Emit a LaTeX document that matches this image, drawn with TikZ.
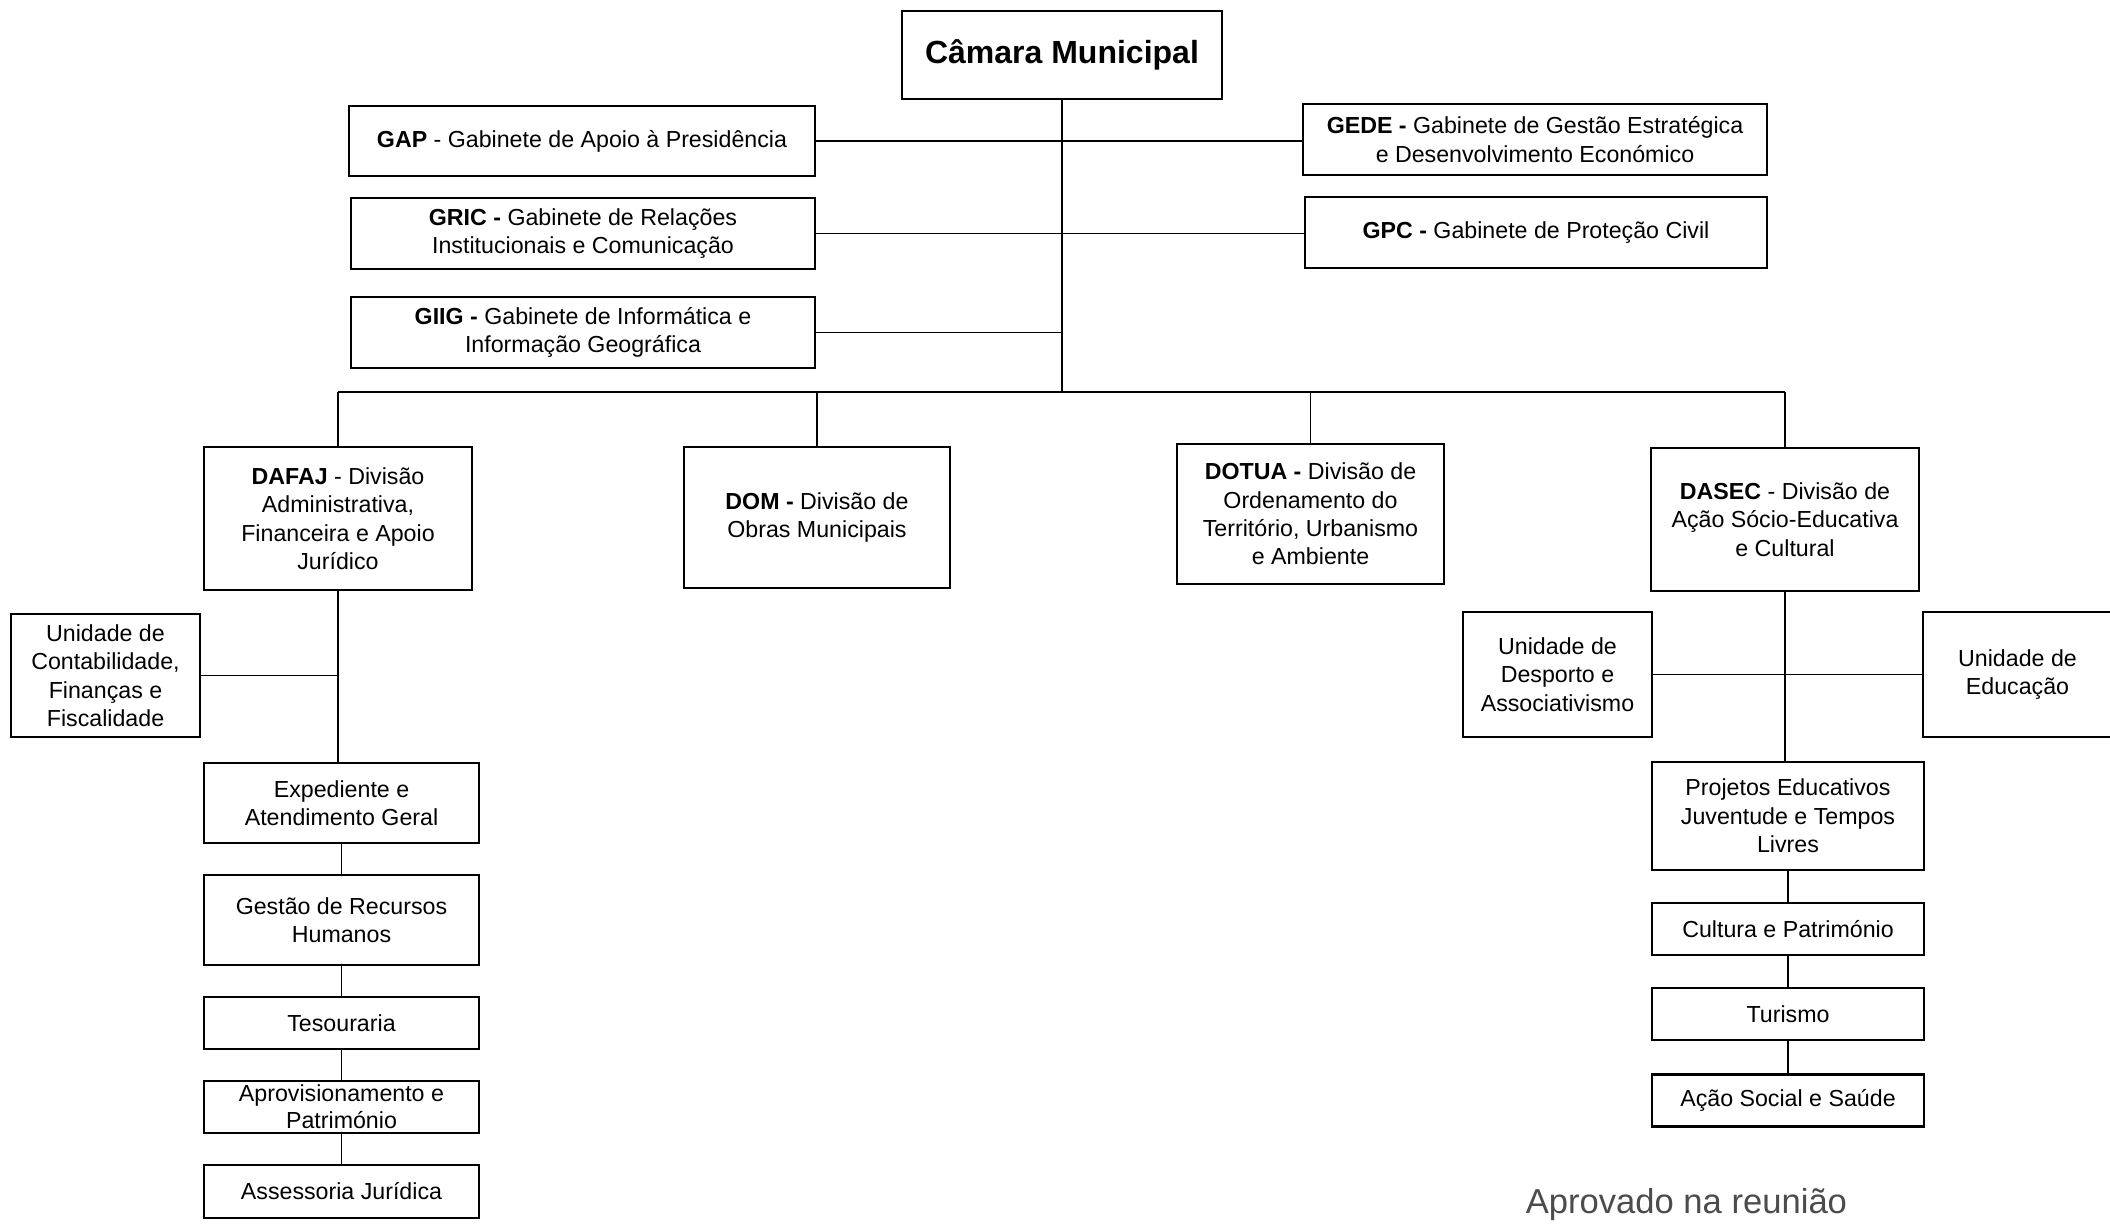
\documentclass[tikz,border=0pt]{standalone}
\usepackage{fontspec}
\setmainfont{Liberation Sans}
\usetikzlibrary{positioning}

\begin{document}
\begin{tikzpicture}[x=0.5pt, y=-0.5pt, thick, node distance=14.8pt,
                    main node/.style={draw, line width=1.2pt, inner sep=0pt, align=center,
                                      font=\fontsize{11.6}{14.2}\selectfont},
                    gab node/.style={main node, minimum width=232pt, minimum height=35.5pt},
                    div node/.style={main node, minimum width=133.5pt, minimum height=71pt},
                    unit node/.style={main node, minimum width=94.5pt, minimum height=62pt},
                    sub node/.style={main node, minimum width=137pt, minimum height=26.5pt}]

  \useasboundingbox (0,0) rectangle (2110,1223);

  \node[main node, minimum width=160pt, minimum height=44pt,
        font=\fontsize{16}{19}\selectfont\bfseries] (1) at (1062,55) {Câmara Municipal};

  % gabinetes
  \node[gab node, minimum width=233pt, minimum height=35pt] (2) at (582,141)
       {\textbf{GAP} - Gabinete de Apoio à Presidência};
  \node[gab node] (3) at (583,233.5)
       {\textbf{GRIC -} Gabinete de Relações\\Institucionais e Comunicação};
  \node[gab node] (4) at (583,332.5)
       {\textbf{GIIG -} Gabinete de Informática e\\Informação Geográfica};
  \node[gab node] (5) at (1535,139.5)
       {\textbf{GEDE -} Gabinete de Gestão Estratégica\\e Desenvolvimento Económico};
  \node[gab node, minimum width=231pt] (6) at (1536,232.5)
       {\textbf{GPC -} Gabinete de Proteção Civil};

  % divisoes
  \node[div node, minimum width=134pt, minimum height=71.5pt] (7) at (338,518.5)
       {\textbf{DAFAJ} - Divisão\\Administrativa,\\Financeira e Apoio\\Jurídico};
  \node[div node, minimum width=133pt, minimum height=70.5pt] (8) at (817,517.5)
       {\textbf{DOM -} Divisão de\\Obras Municipais};
  \node[div node, minimum height=70pt] (9) at (1310.5,514)
       {\textbf{DOTUA -} Divisão de\\Ordenamento do\\Território, Urbanismo\\e Ambiente};
  \node[div node, minimum width=134pt, minimum height=71.5pt] (10) at (1785,519.5)
       {\textbf{DASEC} - Divisão de\\Ação Sócio-Educativa\\e Cultural};

  % DAFAJ
  \node[unit node, minimum height=61.5pt] (11) at (105.5,675.5)
       {Unidade de\\Contabilidade,\\Finanças e\\Fiscalidade};
  \node[sub node, minimum width=137.5pt, minimum height=40pt] (12) at (341.5,803)
       {Expediente e\\Atendimento Geral};
  \node[sub node, minimum width=137.5pt, minimum height=45pt] (13) [below=of 12]
       {Gestão de Recursos\\Humanos};
  \node[sub node, minimum width=137.5pt, minimum height=26pt] (14) [below=of 13] {Tesouraria};
  \node[sub node, minimum width=137.5pt, minimum height=26pt,
        font=\fontsize{11.6}{13.5}\selectfont] (15) [below=of 14]
       {Aprovisionamento e\\Património};
  \node[sub node, minimum width=137.5pt] (16) [below=of 15] {Assessoria Jurídica};

  % DASEC
  \node[unit node, minimum height=62.5pt] (17) at (1557.5,674.5)
       {Unidade de\\Desporto e\\Associativismo};
  \node[unit node, minimum height=62.5pt] (18) at (2017.5,674.5)
       {Unidade de\\Educação};
  \node[sub node, minimum width=136pt, minimum height=54pt] (19) at (1788,816)
       {Projetos Educativos\\Juventude e Tempos\\Livres};
  \node[sub node, minimum width=136pt, minimum height=26pt] (20) [below=15.3pt of 19]
       {Cultura e Património};
  \node[sub node, minimum width=136pt, minimum height=26pt] (21) [below=15.3pt of 20] {Turismo};
  \node[sub node, minimum width=136pt, minimum height=26pt] (22) [below=16pt of 21]
       {Ação Social e Saúde};

  \node[anchor=base west, inner sep=0pt, text=black!70,
        font=\fontsize{17.3}{20}\selectfont] (23) at (1525,1213) {Aprovado na reunião};

  \coordinate (bus) at (1062,392);

  \draw (1) -- (bus);
  \draw (2.east) -- (2.east -| 5.west);
  \draw (3.east) -- (3.east -| 6.west);
  \draw (4.east) -- (4.east -| bus);
  \draw (7 |- bus) -- (10 |- bus);

  \path (7 |- bus) edge (7)
        (8 |- bus) edge (8)
        (9 |- bus) edge (9)
        (10 |- bus) edge (10);

  \draw (7) -- (7 |- 12.north);
  \draw (11) -- (11 -| 7);
  \path (12) edge (13)
        (13) edge (14)
        (14) edge (15)
        (15) edge (16);

  \draw (10) -- (10 |- 19.north);
  \draw (17) -- (18);
  \path (19) edge (20)
        (20) edge (21)
        (21) edge (22);
\end{tikzpicture}
\end{document}
